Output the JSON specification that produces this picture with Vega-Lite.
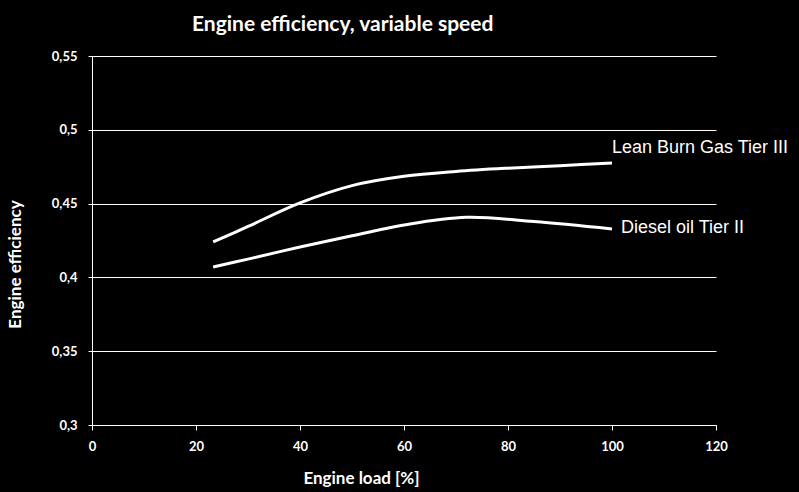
{
  "$schema": "https://vega.github.io/schema/vega-lite/v6.json",
  "width": 624,
  "height": 369,
  "autosize": "none",
  "padding": {"left": 92, "top": 56, "right": 83, "bottom": 67},
  "background": "black",
  "config": {
    "view": {"stroke": null},
    "font": "Lato",
    "axis": {
      "domainColor": "white",
      "tickColor": "white",
      "gridColor": "white",
      "labelColor": "white",
      "titleColor": "white",
      "labelFont": "Lato",
      "titleFont": "Lato",
      "labelFontSize": 13,
      "labelFontWeight": "bold",
      "titleFontSize": 17,
      "titleFontWeight": "bold",
      "domainWidth": 1,
      "tickWidth": 1,
      "gridWidth": 1
    }
  },
  "title": {
    "text": "Engine efficiency, variable speed",
    "anchor": "start",
    "frame": "group",
    "dx": 100,
    "offset": 15,
    "font": "Lato",
    "fontSize": 21,
    "fontWeight": "bold",
    "color": "white"
  },
  "data": {
    "values": [
      {"load": 23.3, "eff": 0.4240, "series": "Lean Burn Gas Tier III"},
      {"load": 30, "eff": 0.4345, "series": "Lean Burn Gas Tier III"},
      {"load": 40, "eff": 0.4505, "series": "Lean Burn Gas Tier III"},
      {"load": 50, "eff": 0.4622, "series": "Lean Burn Gas Tier III"},
      {"load": 60, "eff": 0.4685, "series": "Lean Burn Gas Tier III"},
      {"load": 70, "eff": 0.4718, "series": "Lean Burn Gas Tier III"},
      {"load": 80, "eff": 0.4740, "series": "Lean Burn Gas Tier III"},
      {"load": 90, "eff": 0.4757, "series": "Lean Burn Gas Tier III"},
      {"load": 100, "eff": 0.4775, "series": "Lean Burn Gas Tier III"},
      {"load": 23.3, "eff": 0.4070, "series": "Diesel oil Tier II"},
      {"load": 30, "eff": 0.4124, "series": "Diesel oil Tier II"},
      {"load": 40, "eff": 0.4206, "series": "Diesel oil Tier II"},
      {"load": 50, "eff": 0.4282, "series": "Diesel oil Tier II"},
      {"load": 60, "eff": 0.4355, "series": "Diesel oil Tier II"},
      {"load": 72, "eff": 0.4407, "series": "Diesel oil Tier II"},
      {"load": 85, "eff": 0.4378, "series": "Diesel oil Tier II"},
      {"load": 100, "eff": 0.4328, "series": "Diesel oil Tier II"}
    ]
  },
  "encoding": {
    "x": {
      "field": "load",
      "type": "quantitative",
      "scale": {"domain": [0, 120], "nice": false},
      "axis": {
        "title": "Engine load [%]",
        "values": [0, 20, 40, 60, 80, 100, 120],
        "grid": false,
        "tickSize": 5,
        "labelPadding": 10,
        "labelFlush": false,
        "titleX": 269,
        "titleY": 53,
        "titleBaseline": "middle"
      }
    },
    "y": {
      "field": "eff",
      "type": "quantitative",
      "scale": {"domain": [0.3, 0.55], "nice": false, "zero": false},
      "axis": {
        "title": "Engine efficiency",
        "values": [0.3, 0.35, 0.4, 0.45, 0.5, 0.55],
        "labelExpr": "replace(format(datum.value, '~g'), '.', ',')",
        "tickSize": 4,
        "labelPadding": 11,
        "labelFlush": false,
        "titleX": -77,
        "titleY": 208,
        "titleBaseline": "middle",
        "titleAngle": -90
      }
    }
  },
  "layer": [
    {
      "mark": {"type": "line", "interpolate": "catmull-rom", "color": "white", "strokeWidth": 3},
      "encoding": {"detail": {"field": "series"}}
    },
    {
      "transform": [{"filter": "datum.series == 'Lean Burn Gas Tier III' && datum.load == 100"}],
      "mark": {"type": "text", "align": "left", "baseline": "alphabetic", "dx": 0, "dy": -10, "color": "white", "font": "Liberation Sans", "fontSize": 18},
      "encoding": {"text": {"field": "series"}}
    },
    {
      "transform": [{"filter": "datum.series == 'Diesel oil Tier II' && datum.load == 100"}],
      "mark": {"type": "text", "align": "left", "baseline": "alphabetic", "dx": 9, "dy": 4, "color": "white", "font": "Liberation Sans", "fontSize": 18},
      "encoding": {"text": {"field": "series"}}
    }
  ]
}
